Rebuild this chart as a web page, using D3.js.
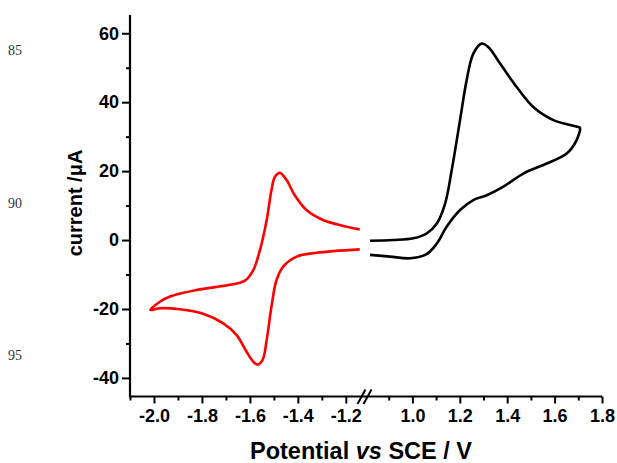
<!DOCTYPE html>
<html>
<head>
<meta charset="utf-8">
<script src="https://cdn.jsdelivr.net/npm/d3@7"></script>
<style>
  body { margin: 0; background: #fff; }
  svg { display: block; }
  .tick text { font-family: "Liberation Sans", Arial, sans-serif; font-weight: bold; font-size: 18px; fill: #000; }
</style>
</head>
<body>
<svg width="617" height="463"></svg>
<script>
const svg = d3.select('svg');

// left scan (red), V vs SCE and µA
const redPotential = [-1.142, -1.211, -1.295, -1.364, -1.413, -1.447, -1.475, -1.496, -1.510, -1.530,
  -1.558, -1.586, -1.621, -1.683, -1.822, -1.933, -1.975, -2.015,
  -1.975, -1.892, -1.795, -1.711, -1.656, -1.614, -1.586, -1.568, -1.547, -1.530,
  -1.510, -1.489, -1.461, -1.405, -1.322, -1.142];
const redCurrent = [3.1, 4.1, 5.8, 8.7, 13.0, 17.4, 19.5, 18.3, 14.5, 5.8,
  -2.9, -8.7, -11.8, -13.0, -14.5, -16.4, -17.9, -20.3,
  -19.8, -20.1, -21.4, -24.2, -27.5, -32.4, -35.3, -36.2, -34.8, -29.0,
  -19.3, -11.6, -7.7, -4.8, -3.7, -2.7];

// right scan (black)
const blackPotential = [0.821, 0.919, 1.004, 1.060, 1.103, 1.138, 1.166, 1.201, 1.229, 1.257,
  1.292, 1.320, 1.370, 1.440, 1.510, 1.595, 1.700, 1.707,
  1.693, 1.651, 1.567, 1.468, 1.384, 1.314, 1.257, 1.201, 1.145, 1.103,
  1.060, 0.990, 0.905, 0.821];
const blackCurrent = [-0.2, 0.0, 0.5, 1.9, 4.8, 10.6, 20.3, 34.8, 46.4, 54.1,
  57.0, 56.0, 51.2, 44.4, 38.6, 34.8, 32.8, 32.6,
  29.0, 25.1, 22.2, 19.3, 15.5, 13.0, 11.6, 8.7, 3.9, -1.0,
  -4.1, -5.3, -4.8, -4.3];

const xTicksLeft = [-2.0, -1.8, -1.6, -1.4, -1.2];
const xMinorLeft = [-2.1, -1.9, -1.7, -1.5, -1.3];
const xTicksRight = [1.0, 1.2, 1.4, 1.6, 1.8];
const xMinorRight = [0.9, 1.1, 1.3, 1.5, 1.7];
const yTicks = [-40, -20, 0, 20, 40, 60];
const yMinor = [-30, -10, 10, 30, 50];
const lineNumbers = ['85', '90', '95'];

const x1 = d3.scaleLinear().domain([-2.1, -1.12]).range([130, 365]);
const x2 = d3.scaleLinear().domain([0.8, 1.8]).range([365, 602]);
const y = d3.scaleLinear().domain([-45.4, 65.3]).range([396.5, 15]);
const baseY = y.range()[0];

// plain hyphen for negatives, like the original
const loc = d3.formatLocale({ decimal: '.', thousands: ',', grouping: [3], currency: ['', ''], minus: '-' });
const fmtX = loc.format('.1f');
const fmtY = loc.format('d');

function xAxis(scale, major, minor) {
  svg.append('g')
    .attr('transform', `translate(0,${baseY})`)
    .call(d3.axisBottom(scale).tickValues(minor).tickSize(4).tickFormat(''))
    .call(g => g.select('.domain').remove());
  svg.append('g')
    .attr('transform', `translate(0,${baseY})`)
    .call(d3.axisBottom(scale).tickValues(major).tickSize(7).tickPadding(6).tickFormat(fmtX))
    .call(g => g.select('.domain').remove());
}
xAxis(x1, xTicksLeft, xMinorLeft);
xAxis(x2, xTicksRight, xMinorRight);

svg.append('g')
  .attr('transform', 'translate(130,0)')
  .call(d3.axisLeft(y).tickValues(yMinor).tickSize(4).tickFormat(''))
  .call(g => g.select('.domain').remove());
svg.append('g')
  .attr('transform', 'translate(130,0)')
  .call(d3.axisLeft(y).tickValues(yTicks).tickSize(8).tickPadding(3).tickFormat(fmtY))
  .call(g => g.select('.domain').remove());

svg.selectAll('.tick line').attr('stroke', '#000').attr('stroke-width', 2);

// axis lines
svg.append('path')
  .attr('d', `M130,${y.range()[1]}V${baseY}H602`)
  .attr('fill', 'none')
  .attr('stroke', '#000')
  .attr('stroke-width', 2.2);

// break mark
const bx = x1.range()[1];
[-3.5, 2.5].forEach(dx => {
  svg.append('line')
    .attr('x1', bx + dx - 4).attr('y1', baseY + 7.5)
    .attr('x2', bx + dx + 4).attr('y2', baseY - 7)
    .attr('stroke', '#000').attr('stroke-width', 2);
});

const line = (xs) => d3.line()
  .x(d => xs(d[0]))
  .y(d => y(d[1]))
  .curve(d3.curveCatmullRom.alpha(0.5));

svg.append('path')
  .datum(d3.zip(redPotential, redCurrent))
  .attr('d', line(x1))
  .attr('fill', 'none')
  .attr('stroke', '#ff0000')
  .attr('stroke-width', 2.6)
  .attr('stroke-linejoin', 'round');

svg.append('path')
  .datum(d3.zip(blackPotential, blackCurrent))
  .attr('d', line(x2))
  .attr('fill', 'none')
  .attr('stroke', '#000')
  .attr('stroke-width', 2.6)
  .attr('stroke-linejoin', 'round');

// titles
const xt = svg.append('text')
  .attr('x', 361).attr('y', 459)
  .attr('text-anchor', 'middle')
  .style('font-family', '"Liberation Sans", Arial, sans-serif')
  .style('font-weight', 'bold')
  .style('font-size', '23.5px');
xt.append('tspan').text('Potential ');
xt.append('tspan').style('font-style', 'italic').text('vs');
xt.append('tspan').text(' SCE / V');

svg.append('text')
  .attr('transform', 'translate(82,203) rotate(-90)')
  .attr('text-anchor', 'middle')
  .style('font-family', '"Liberation Sans", Arial, sans-serif')
  .style('font-weight', 'bold')
  .style('font-size', '20px')
  .text('current /\u03bcA');

// manuscript line numbers in the margin
svg.selectAll('.ln')
  .data(lineNumbers)
  .enter()
  .append('text')
  .attr('class', 'ln')
  .attr('x', 8)
  .attr('y', (d, i) => 55 + i * 152.5)
  .style('font-family', '"Liberation Serif", "Times New Roman", serif')
  .style('font-size', '14px')
  .style('fill', '#333')
  .text(d => d);
</script>
</body>
</html>
